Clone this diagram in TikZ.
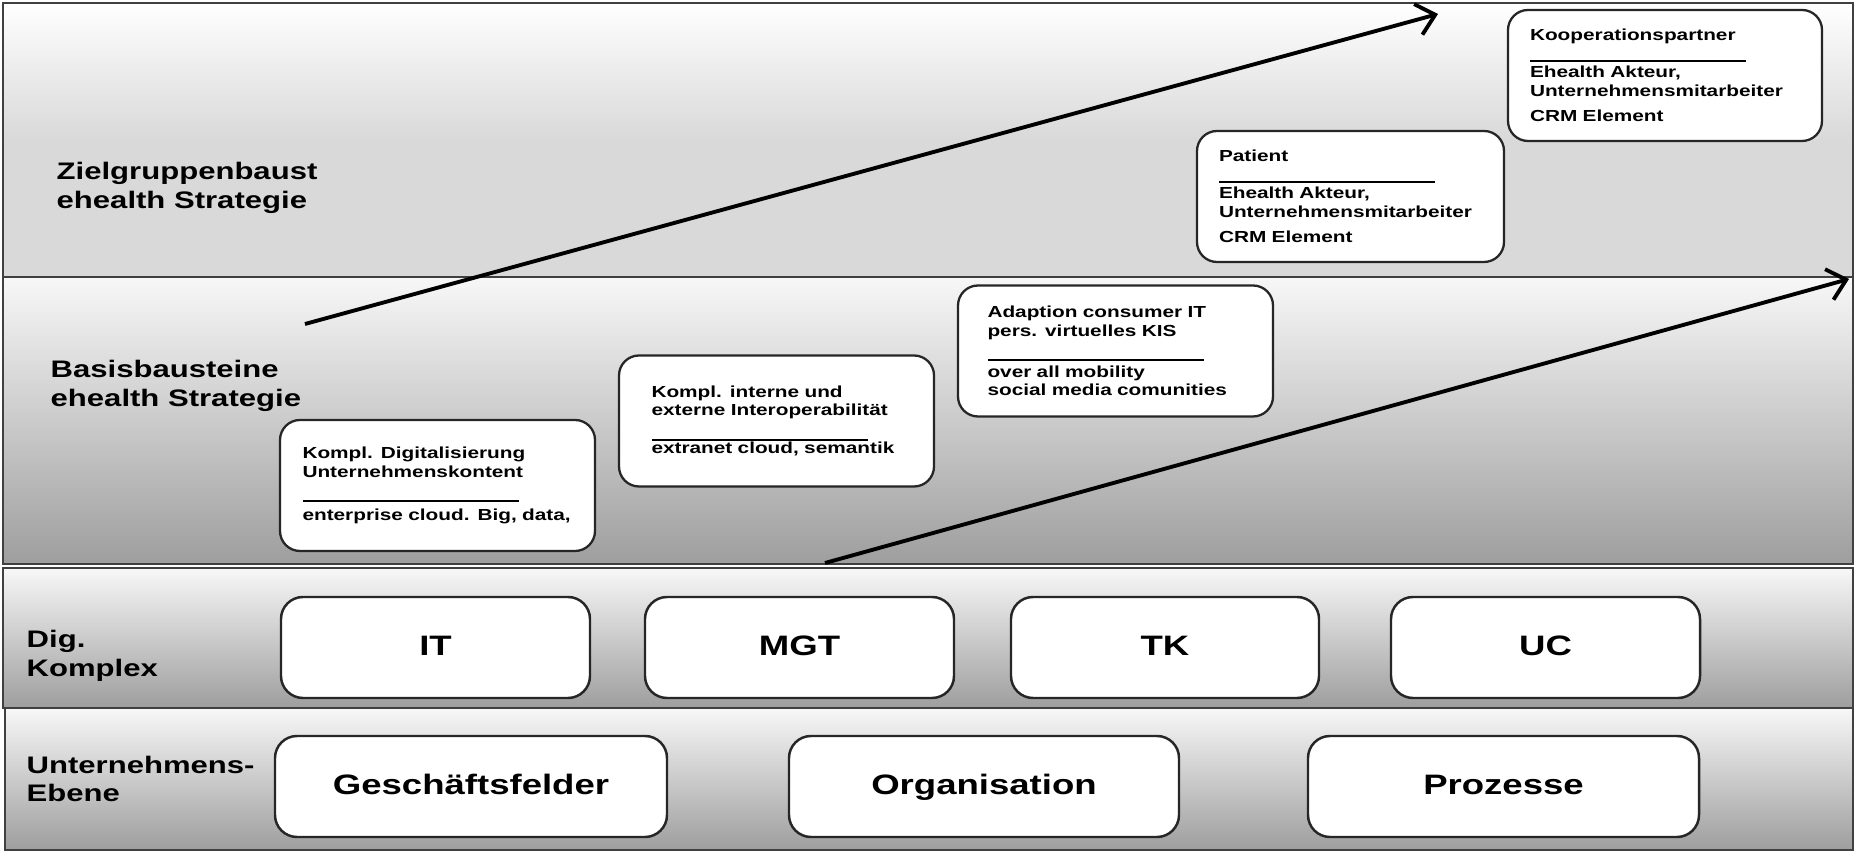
\documentclass[tikz,border=0pt]{standalone}
\usepackage{fontspec}
\setmainfont{Liberation Sans}[FakeStretch=1.3]
\usepackage{tikz}
\usetikzlibrary{arrows.meta}

\newcommand{\sepline}{\rule[-0.9pt]{2.16cm}{0.55pt}}

\tikzset{
    lane/.style={draw=black!75, line width=0.55pt},
    lanelabel/.style={anchor=west, inner sep=0pt, align=left, font=\fontsize{6.8}{8.1}\selectfont\bfseries},
    bigbox/.style={draw=black!85, line width=0.7pt, fill=white, rounded corners=0.22cm, minimum height=1.01cm, text height=0.73em, text depth=0.25em, font=\fontsize{8}{9.6}\selectfont\bfseries},
    smallbox/.style={draw=black!85, line width=0.65pt, fill=white, rounded corners=0.2cm, minimum width=3.15cm, minimum height=1.31cm, text width=2.7cm, align=left, font=\fontsize{4.55}{5.26}\selectfont\bfseries},
    trend/.style={line width=1.1pt, -{Straight Barb[length=5pt,width=9pt]}}
}

\begin{document}
\begin{tikzpicture}
            \useasboundingbox (0,0) rectangle (18.56,8.52);

            \draw[lane, top color=white, bottom color=black!15, middle color=black!15] (0.03,8.49) rectangle (18.53,5.75);
            \draw[lane, top color=black!3, bottom color=black!38] (0.03,5.75) rectangle (18.53,2.88);
            \draw[lane, top color=black!3, bottom color=black!38] (0.03,2.84) rectangle (18.53,1.44);
            \draw[lane, top color=black!3, bottom color=black!38] (0.05,1.44) rectangle (18.53,0.02);

            \node[lanelabel] (0) at (0.56,6.64) {Zielgruppenbaust\\ehealth Strategie};
            \node[lanelabel] (1) at (0.50,4.66) {Basisbausteine\\ehealth Strategie};
            \node[lanelabel] (2) at (0.26,1.96) {Dig.\\Komplex};
            \node[lanelabel] (3) at (0.26,0.73) {Unternehmens-\\Ebene};

            \coordinate (16) at (3.05,5.28);
            \coordinate (17) at (14.38,8.38);
            \coordinate (18) at (8.25,2.89);
            \coordinate (19) at (18.49,5.73);
            \draw[trend] (16) -- (17);
            \draw[trend] (18) -- (19);

            \node[smallbox] (4) at (4.375,3.665) {Kompl. Digitalisierung\\Unternehmenskontent\\[1pt]\sepline\\[0.8pt]\mbox{enterprise cloud. Big, data,}};
            \node[smallbox, text width=2.5cm] (5) at (7.765,4.31) {Kompl. interne und\\externe Interoperabilität\\[1pt]\sepline\\[-0.6pt]extranet cloud, semantik};
            \node[smallbox, text width=2.56cm] (6) at (11.155,5.01) {Adaption consumer IT\\pers. virtuelles KIS\\[1pt]\sepline\\[0.2pt]over all mobility\\social media comunities};
            \node[smallbox, minimum width=3.07cm, text width=2.63cm] (7) at (13.505,6.555) {Patient\\\sepline\\Ehealth Akteur,\\Unternehmensmitarbeiter\\[2pt]CRM Element};
            \node[smallbox, minimum width=3.14cm] (8) at (16.65,7.765) {Kooperationspartner\\\sepline\\Ehealth Akteur,\\Unternehmensmitarbeiter\\[2pt]CRM Element};

            \node[bigbox, minimum width=3.09cm] (9) at (4.355,2.045) {IT};
            \node[bigbox, minimum width=3.09cm] (10) at (7.995,2.045) {MGT};
            \node[bigbox, minimum width=3.08cm] (11) at (11.65,2.045) {TK};
            \node[bigbox, minimum width=3.09cm] (12) at (15.455,2.045) {UC};

            \node[bigbox, minimum width=3.92cm] (13) at (4.71,0.655) {Geschäftsfelder};
            \node[bigbox, minimum width=3.90cm] (14) at (9.84,0.655) {Organisation};
            \node[bigbox, minimum width=3.91cm] (15) at (15.035,0.655) {Prozesse};
\end{tikzpicture}
\end{document}
